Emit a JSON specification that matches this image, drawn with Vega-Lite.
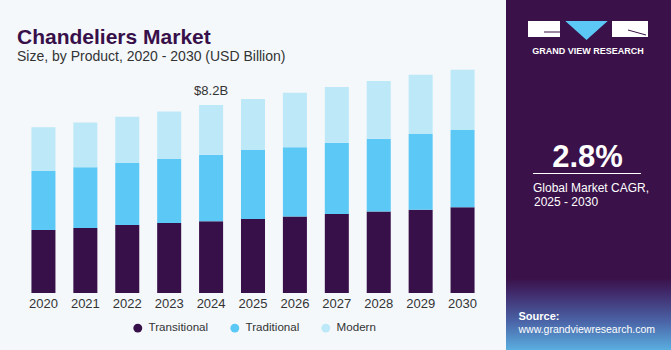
{
  "$schema": "https://vega.github.io/schema/vega-lite/v6.json",
  "padding": 0,
  "background": "#f4f8fb",
  "spacing": 0,
  "config": {"view": {"stroke": null}, "font": "Liberation Sans"},
  "resolve": {"scale": {"x": "independent", "y": "independent"}},
  "hconcat": [
    {
      "width": 506,
      "height": 293,
      "title": {
        "text": "Chandeliers Market",
        "subtitle": "Size, by Product, 2020 - 2030 (USD Billion)",
        "anchor": "start",
        "frame": "group",
        "orient": "top",
        "offset": -60,
        "dx": 17,
        "dy": 4,
        "font": "Liberation Sans",
        "fontSize": 21,
        "fontWeight": "bold",
        "color": "#381049",
        "subtitleFont": "Liberation Sans",
        "subtitleFontSize": 14,
        "subtitleColor": "#333333",
        "subtitlePadding": 2
      },
      "layer": [
        {
          "data": {
            "values": [
              {"year": "2020", "product": "Transitional", "value": 2.75},
              {"year": "2020", "product": "Traditional", "value": 2.57},
              {"year": "2020", "product": "Modern", "value": 1.91},
              {"year": "2021", "product": "Transitional", "value": 2.83},
              {"year": "2021", "product": "Traditional", "value": 2.65},
              {"year": "2021", "product": "Modern", "value": 1.96},
              {"year": "2022", "product": "Transitional", "value": 2.97},
              {"year": "2022", "product": "Traditional", "value": 2.70},
              {"year": "2022", "product": "Modern", "value": 2.02},
              {"year": "2023", "product": "Transitional", "value": 3.05},
              {"year": "2023", "product": "Traditional", "value": 2.79},
              {"year": "2023", "product": "Modern", "value": 2.08},
              {"year": "2024", "product": "Transitional", "value": 3.13},
              {"year": "2024", "product": "Traditional", "value": 2.90},
              {"year": "2024", "product": "Modern", "value": 2.17},
              {"year": "2025", "product": "Transitional", "value": 3.23},
              {"year": "2025", "product": "Traditional", "value": 3.01},
              {"year": "2025", "product": "Modern", "value": 2.22},
              {"year": "2026", "product": "Transitional", "value": 3.34},
              {"year": "2026", "product": "Traditional", "value": 3.02},
              {"year": "2026", "product": "Modern", "value": 2.37},
              {"year": "2027", "product": "Transitional", "value": 3.45},
              {"year": "2027", "product": "Traditional", "value": 3.10},
              {"year": "2027", "product": "Modern", "value": 2.44},
              {"year": "2028", "product": "Transitional", "value": 3.55},
              {"year": "2028", "product": "Traditional", "value": 3.18},
              {"year": "2028", "product": "Modern", "value": 2.52},
              {"year": "2029", "product": "Transitional", "value": 3.63},
              {"year": "2029", "product": "Traditional", "value": 3.30},
              {"year": "2029", "product": "Modern", "value": 2.59},
              {"year": "2030", "product": "Transitional", "value": 3.74},
              {"year": "2030", "product": "Traditional", "value": 3.37},
              {"year": "2030", "product": "Modern", "value": 2.63}
            ]
          },
          "mark": {"type": "bar"},
          "encoding": {
            "x": {
              "field": "year",
              "type": "ordinal",
              "scale": {"paddingInner": 0.427, "paddingOuter": 0.75},
              "axis": {"title": null, "domain": false, "ticks": false, "labelFontSize": 13, "labelColor": "#333333", "labelPadding": 4, "labelAngle": 0, "labelFont": "Liberation Sans"}
            },
            "y": {
              "field": "value",
              "type": "quantitative",
              "stack": "zero",
              "scale": {"domain": [0, 12.78], "nice": false},
              "axis": null
            },
            "color": {
              "field": "product",
              "type": "nominal",
              "sort": ["Transitional", "Traditional", "Modern"],
              "scale": {"domain": ["Transitional", "Traditional", "Modern"], "range": ["#381049", "#5bc8f5", "#bde8f8"]},
              "legend": {
                "title": null,
                "orient": "none",
                "legendX": 132,
                "legendY": 322,
                "direction": "horizontal",
                "symbolType": "circle",
                "symbolSize": 80,
                "labelFontSize": 11.6,
                "labelFont": "Liberation Sans",
                "labelColor": "#333333",
                "columnPadding": 20,
                "labelOffset": 5
              }
            }
          }
        },
        {
          "data": {"values": [{"year": "2024", "total": 8.2, "label": "$8.2B"}]},
          "mark": {"type": "text", "baseline": "bottom", "dy": -7, "fontSize": 13, "color": "#333333", "font": "Liberation Sans"},
          "encoding": {
            "x": {"field": "year", "type": "ordinal"},
            "y": {"field": "total", "type": "quantitative"},
            "text": {"field": "label"}
          }
        }
      ]
    },
    {
      "width": 165,
      "height": 350,
      "view": {"fill": "#3a1149", "stroke": null},
      "data": {"values": [{"k": 1}]},
      "layer": [
        {
          "mark": {"type": "rect", "color": {"gradient": "linear", "x1": 0, "y1": 0, "x2": 0, "y2": 1, "stops": [{"offset": 0, "color": "#3a1149"}, {"offset": 0.2, "color": "#40296a"}, {"offset": 0.6, "color": "#4a63a6"}, {"offset": 1, "color": "#5aaee0"}]}},
          "encoding": {
            "x": {"datum": 0, "type": "quantitative", "scale": {"domain": [0, 165], "nice": false, "zero": false}, "axis": null},
            "x2": {"datum": 165},
            "y": {"datum": 278, "type": "quantitative", "scale": {"domain": [0, 350], "reverse": true, "nice": false, "zero": false}, "axis": null},
            "y2": {"datum": 350}
          }
        },
        {
          "mark": {"type": "rect", "color": "#ffffff"},
          "encoding": {
            "x": {"datum": 22, "type": "quantitative", "axis": null},
            "x2": {"datum": 54},
            "y": {"datum": 21, "type": "quantitative", "axis": null},
            "y2": {"datum": 37}
          }
        },
        {
          "mark": {"type": "rect", "color": "#ffffff"},
          "encoding": {
            "x": {"datum": 106, "type": "quantitative", "axis": null},
            "x2": {"datum": 142},
            "y": {"datum": 21, "type": "quantitative", "axis": null},
            "y2": {"datum": 37}
          }
        },
        {
          "mark": {"type": "rule", "color": "#3a1149", "strokeWidth": 1},
          "encoding": {
            "x": {"datum": 38, "type": "quantitative", "axis": null},
            "x2": {"datum": 54},
            "y": {"datum": 32, "type": "quantitative", "axis": null},
            "y2": {"datum": 32}
          }
        },
        {
          "mark": {"type": "rule", "color": "#3a1149", "strokeWidth": 1},
          "encoding": {
            "x": {"datum": 122, "type": "quantitative", "axis": null},
            "x2": {"datum": 140},
            "y": {"datum": 30, "type": "quantitative", "axis": null},
            "y2": {"datum": 35}
          }
        },
        {
          "mark": {"type": "point", "shape": "M-1,-0.45L1,-0.45L0,0.45Z", "filled": true, "opacity": 1, "color": "#5bc8f5", "size": 1800},
          "encoding": {
            "x": {"datum": 80.5, "type": "quantitative", "axis": null},
            "y": {"datum": 30.5, "type": "quantitative", "axis": null}
          }
        },
        {
          "mark": {"type": "text", "align": "center", "baseline": "alphabetic", "fontSize": 9, "fontWeight": "bold", "letterSpacing": 0.5, "color": "#ffffff", "font": "Liberation Sans"},
          "encoding": {
            "x": {"datum": 82, "type": "quantitative", "axis": null},
            "y": {"datum": 54, "type": "quantitative", "axis": null},
            "text": {"value": "GRAND VIEW RESEARCH"}
          }
        },
        {
          "mark": {"type": "text", "align": "center", "baseline": "alphabetic", "fontSize": 31, "fontWeight": "bold", "color": "#ffffff", "font": "Liberation Sans"},
          "encoding": {
            "x": {"datum": 81.5, "type": "quantitative", "axis": null},
            "y": {"datum": 167, "type": "quantitative", "axis": null},
            "text": {"value": "2.8%"}
          }
        },
        {
          "mark": {"type": "rule", "color": "#ffffff", "strokeWidth": 1},
          "encoding": {
            "x": {"datum": 27, "type": "quantitative", "axis": null},
            "x2": {"datum": 135},
            "y": {"datum": 173.5, "type": "quantitative", "axis": null},
            "y2": {"datum": 173.5}
          }
        },
        {
          "mark": {"type": "text", "align": "left", "baseline": "alphabetic", "fontSize": 12, "color": "#ffffff", "font": "Liberation Sans"},
          "encoding": {
            "x": {"datum": 27, "type": "quantitative", "axis": null},
            "y": {"datum": 192, "type": "quantitative", "axis": null},
            "text": {"value": "Global Market CAGR,"}
          }
        },
        {
          "mark": {"type": "text", "align": "left", "baseline": "alphabetic", "fontSize": 12, "color": "#ffffff", "font": "Liberation Sans"},
          "encoding": {
            "x": {"datum": 28, "type": "quantitative", "axis": null},
            "y": {"datum": 205.5, "type": "quantitative", "axis": null},
            "text": {"value": "2025 - 2030"}
          }
        },
        {
          "mark": {"type": "text", "align": "left", "baseline": "alphabetic", "fontSize": 11, "fontWeight": "bold", "color": "#ffffff", "font": "Liberation Sans"},
          "encoding": {
            "x": {"datum": 12.5, "type": "quantitative", "axis": null},
            "y": {"datum": 319.5, "type": "quantitative", "axis": null},
            "text": {"value": "Source:"}
          }
        },
        {
          "mark": {"type": "text", "align": "left", "baseline": "alphabetic", "fontSize": 10.5, "color": "#ffffff", "font": "Liberation Sans"},
          "encoding": {
            "x": {"datum": 12.5, "type": "quantitative", "axis": null},
            "y": {"datum": 333, "type": "quantitative", "axis": null},
            "text": {"value": "www.grandviewresearch.com"}
          }
        }
      ]
    }
  ]
}
